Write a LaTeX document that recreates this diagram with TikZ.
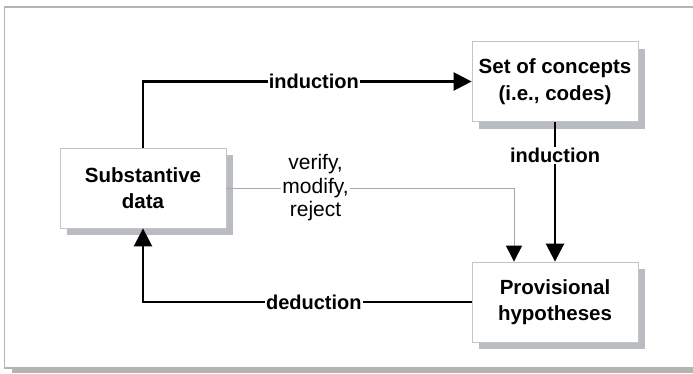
\documentclass[tikz,border=0pt]{standalone}
\usepackage{fontspec}
\setmainfont{Liberation Sans}
\usetikzlibrary{arrows.meta,shadows}
\definecolor{framegray}{HTML}{B4B4B4}
\definecolor{shadowgray}{HTML}{B9BCC0}
\definecolor{boxline}{HTML}{C4C4C4}
\definecolor{thingray}{HTML}{A8A8A8}
\begin{document}
\begin{tikzpicture}[x=1pt,y=-1pt,
  box/.style={draw=boxline, line width=0.8pt, fill=white, minimum width=166pt, minimum height=80pt,
    align=center, inner sep=0pt, font=\fontsize{20.5}{26.5}\selectfont\bfseries,
    drop shadow={shadow xshift=7pt, shadow yshift=-7pt, fill=shadowgray, opacity=1}},
  ar/.style={line width=2.5pt, -{Triangle[length=18pt,width=18pt]}},
  thinar/.style={draw=thingray, line width=0.9pt, -{Triangle[length=16pt,width=16pt,color=black,fill=black]}},
  lab/.style={fill=white, inner sep=1pt, font=\fontsize{20}{23}\selectfont\bfseries},
  tlab/.style={fill=white, inner sep=1pt, align=center, font=\fontsize{21}{23.5}\selectfont}]
\useasboundingbox (0,0) rectangle (693,373);
\fill[framegray] (12,369) rectangle (700,373);
\draw[framegray, line width=1.2pt] (700,7) -- (4.5,7) -- (4.5,368) -- (700,368);
\node[box] (sub) at (143,188) {Substantive\\data};
\node[box] (set) at (555,81.5) {Set of concepts\\(i.e., codes)};
\node[box] (prov) at (555,302) {Provisional\\hypotheses};
\draw[ar] (sub.north) |- node[lab, pos=0.76] {induction} (set.west);
\draw[ar] (set.south) -- node[lab, pos=0.24] {induction} (prov.north);
\draw[ar] (prov.west) -| node[lab, pos=0.24] {deduction} (sub.south);
\draw[thinar] (sub.east) -| node[tlab, pos=0.155] {verify,\\modify,\\reject} ([xshift=-41pt]prov.north);
\end{tikzpicture}
\end{document}
